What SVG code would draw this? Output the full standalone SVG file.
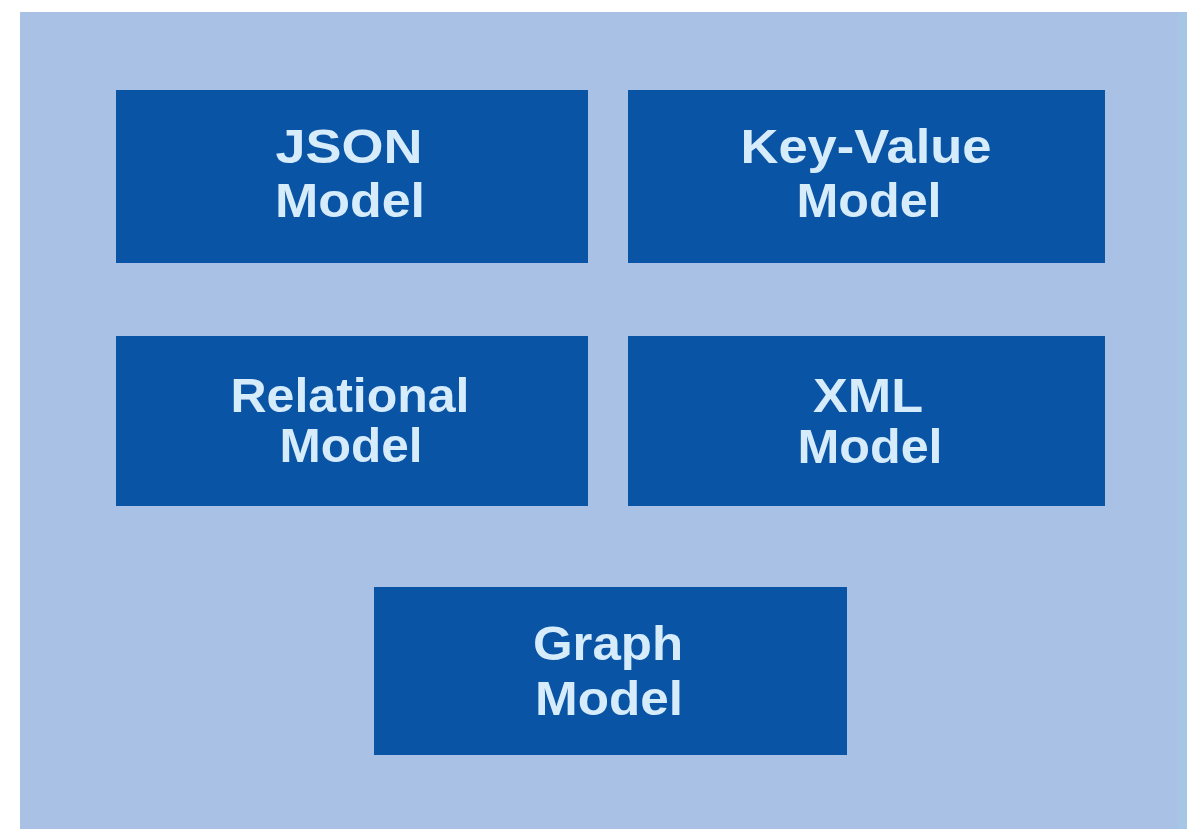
<svg xmlns="http://www.w3.org/2000/svg" width="1187" height="829" viewBox="0 0 1187 829">
  <style>
    .box { fill: #0a54a6; }
    .lbl { fill: #d6ecfb; font-family: "Liberation Sans", Arial, sans-serif; font-size: 48px; font-weight: bold; text-anchor: middle; }
  </style>
  <rect x="0" y="0" width="1187" height="829" fill="#ffffff"/>
  <rect x="20" y="12" width="1167" height="817" fill="#a8c1e5"/>
  <rect x="1178" y="12" width="9" height="817" fill="#a6c6e6"/>
  <g id="json">
    <rect class="box" x="116" y="90" width="472" height="173"/>
    <text class="lbl" x="349" y="163" textLength="147" lengthAdjust="spacingAndGlyphs">JSON</text>
    <text class="lbl" x="350" y="217" textLength="150" lengthAdjust="spacingAndGlyphs">Model</text>
  </g>
  <g id="keyvalue">
    <rect class="box" x="628" y="90" width="477" height="173"/>
    <text class="lbl" x="866" y="163" textLength="251" lengthAdjust="spacingAndGlyphs">Key-Value</text>
    <text class="lbl" x="869" y="217" textLength="145" lengthAdjust="spacingAndGlyphs">Model</text>
  </g>
  <g id="relational">
    <rect class="box" x="116" y="336" width="472" height="170"/>
    <text class="lbl" x="350" y="412" textLength="239" lengthAdjust="spacingAndGlyphs">Relational</text>
    <text class="lbl" x="351" y="462" textLength="143" lengthAdjust="spacingAndGlyphs">Model</text>
  </g>
  <g id="xml">
    <rect class="box" x="628" y="336" width="477" height="170"/>
    <text class="lbl" x="868" y="412" textLength="110" lengthAdjust="spacingAndGlyphs">XML</text>
    <text class="lbl" x="870" y="463" textLength="145" lengthAdjust="spacingAndGlyphs">Model</text>
  </g>
  <g id="graph">
    <rect class="box" x="374" y="587" width="473" height="168"/>
    <text class="lbl" x="608" y="660" textLength="150" lengthAdjust="spacingAndGlyphs">Graph</text>
    <text class="lbl" x="609" y="715" textLength="148" lengthAdjust="spacingAndGlyphs">Model</text>
  </g>
  <g id="connectors"/>
</svg>
